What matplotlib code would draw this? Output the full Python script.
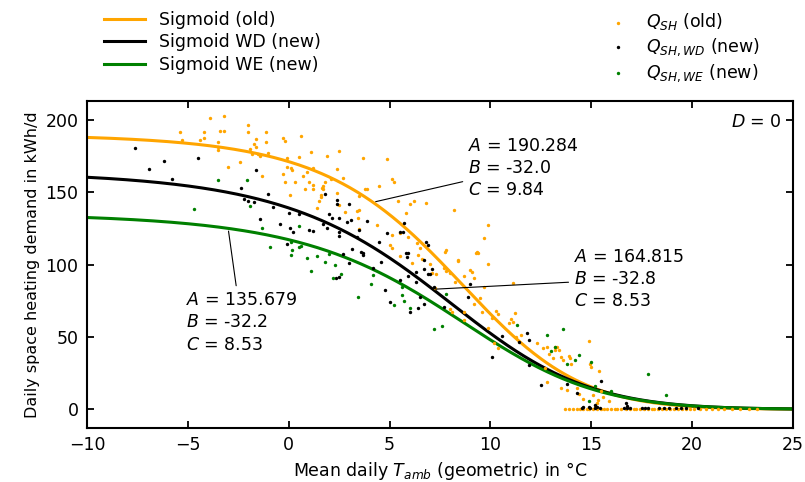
#!/usr/bin/env python3
"""Daily space heating demand vs. mean ambient temperature, sigmoid fits."""
import matplotlib
matplotlib.use("Agg")
import matplotlib.pyplot as plt
import numpy as np

# --- sigmoid fit parameters (order: old, WD, WE), D = 0 ---
FIT_A = [190.284, 164.815, 135.679]
FIT_B = [-32.0, -32.8, -32.2]
FIT_C = [9.84, 8.53, 8.53]
FIT_LABELS = ["Sigmoid (old)", "Sigmoid WD (new)", "Sigmoid WE (new)"]
PTS_LABELS = [r"$Q_{SH}$ (old)", r"$Q_{SH,WD}$ (new)", r"$Q_{SH,WE}$ (new)"]
COLORS = ["#ffa500", "black", "#008000"]

old_t = [-3.9, -3.2, -5.4, -5.3, -4.2, -4.2, -4.4, -3.4, -3.2, -3.5, -3.5, -3.5,
         -2.0, -2.0, -1.6, -1.1, -1.1, -1.7, -1.6, -1.9, -1.5, -1.4, -1.0, -1.8,
         -2.4, -3.0, -1.3, -0.3, -0.2, -0.1, -0.1, 0.1, -0.3, -0.2, 0.05, 0.3,
         0.6, 1.1, 0.5, 1.9, 1.2, 0.7, 1.0, 1.2, 0.8, 1.7, 1.7, 1.8, 1.5, 1.6, 1.4,
         2.5, 3.7, 4.9, 0.15, 0.9, 1.2, 1.65, 2.1, 2.4, 2.7, 1.62, 2.4, 2.5, 3.5,
         3.8, 3.9, 4.5, 5.1, 5.2, 5.4, 6.0, 6.2, 6.8, 8.2, 5.8, 2.8, 3.4, 3.5,
         3.45, 4.4, 3.5, 5.1, 5.5, 5.0, 5.1, 6.35, 6.5, 7.8, 7.75, 9.35, 9.7, 9.9,
         5.9, 9.3, 8.4,
         5.5, 6.4, 6.1, 6.6, 7.0, 7.1, 7.3, 7.7, 7.8, 8.0, 8.4, 8.25, 8.7, 9.0,
         9.1, 9.4, 9.9, 9.2, 9.7, 9.5, 9.2, 9.6, 8.7, 8.7, 9.9, 8.0, 8.1, 7.25,
         11.1, 10.3, 10.4, 10.1, 11.2, 11.0, 11.1, 10.9, 11.25, 11.5, 12.3, 12.9,
         13.1, 13.2, 13.5, 13.6, 13.2, 12.7, 12.8, 13.5, 13.9, 13.95, 14.0, 14.9,
         14.95, 15.0, 15.4, 14.3, 14.4, 15.1, 15.5, 15.6, 15.9, 15.3, 13.8,
         10.2, 10.4, 12.6, 12.8, 13.3, 13.4, 14.6, 15.35, 15.2,
         13.7, 13.9, 14.1, 14.3, 14.45, 14.6, 14.8, 14.9, 15.1, 15.3, 15.5, 15.65,
         15.8, 16.0, 16.2, 16.3, 16.5, 16.7, 16.9, 17.1, 17.2, 17.4, 17.6, 17.8,
         18.0, 18.1, 18.3, 18.5, 18.7, 18.9, 19.1, 19.3, 19.5, 19.7, 19.9, 20.1,
         20.4, 20.7, 21.0, 21.3, 21.6, 22.0, 22.4, 22.8, 23.2]
old_q = [201.6, 202.6, 191.9, 186.4, 191.9, 187.8, 186.0, 192.4, 192.4, 185.0, 181.6, 179.0,
         196.5, 191.9, 186.9, 191.5, 185.0, 183.6, 181.3, 179.9, 176.3, 174.9, 177.4, 176.7,
         170.7, 167.5, 161.5, 187.3, 185.5, 173.5, 167.5, 167.0, 162.4, 156.9, 148.1, 157.0,
         189.1, 178.0, 174.4, 174.9, 166.6, 161.0, 157.3, 152.2, 152.2, 152.2, 154.5, 156.9,
         144.0, 146.7, 139.3,
         178.5, 173.5, 173.0, 165.2, 164.2, 155.0, 153.2, 159.2, 165.9, 159.7, 148.1, 149.3,
         141.2, 147.6, 152.0, 152.2, 154.5, 159.2, 157.3, 143.9, 141.7, 143.9, 142.4, 137.5,
         135.4, 136.5, 137.0, 137.7, 132.0, 127.3, 124.6, 120.4, 121.6, 113.5, 111.2, 114.7,
         111.2, 110.0, 108.9, 108.9, 118.1, 127.3, 119.2, 108.2, 102.6,
         105.9, 106.6, 101.2, 103.6, 100.3, 93.9, 93.4, 97.4, 95.7, 94.3, 103.1, 88.1, 92.0,
         96.2, 95.0, 107.7, 100.3, 90.4, 84.6, 76.6, 72.7, 67.3, 67.3, 61.6, 56.5, 69.0,
         67.3, 83.5,
         87.4, 67.8, 65.7, 62.8, 66.6, 62.1, 60.4, 59.3, 49.6, 51.2, 45.9, 38.1,
         35.1, 42.7, 36.2, 33.9, 40.8, 28.2, 18.9, 15.0, 36.7, 35.1, 31.6, 47.1,
         31.6, 28.9, 26.5, 15.0, 10.4, 9.7, 12.7, 8.5, 5.7, 4.4, 13.1,
         45.9, 42.0, 42.0, 43.1, 43.1, 40.8, 7.4, 6.2, 1.6,
         0, 0, 0, 0, 0, 0, 0, 0, 0, 0, 0, 0,
         0, 0, 0, 0, 0, 0, 0, 0, 0, 0, 0, 0,
         0, 0, 0, 0, 0, 0, 0, 0, 0, 0, 0, 0,
         0, 0, 0, 0, 0, 0, 0, 0, 0]

wd_t = [-7.6, -6.9, -6.2, -5.8, -4.5, -1.6, -2.35, -1.0, -2.2, -2.0, -1.7, -0.8,
        0.0, -1.4, -0.45, 0.06, 0.2, -0.1, 1.8, 1.9, 1.7, 1.0, 1.2, 0.5, 2.0,
        2.4, 2.4, 3.0, 2.15, 2.5, 2.9, 3.1, 3.9, 3.5, 2.5, 2.5, 3.4, 4.5, 4.9,
        5.7, 6.8, 6.9, 3.15, 3.6, 5.8, 5.9,
        2.7, 3.0, 3.7, 3.7, 2.35, 2.5, 4.2, 4.6, 4.8, 5.0, 5.5, 5.9, 5.85, 6.3,
        6.5, 6.7, 6.4, 6.0, 6.7, 6.9, 7.2, 7.7, 9.0, 8.9,
        5.5, 5.65, 6.3, 7.1, 6.7, 7.0,
        10.1, 10.6, 11.4, 11.8, 11.9, 11.9, 12.5, 13.8, 14.3, 15.5, 15.2, 15.3,
        16.7, 16.75, 14.6, 14.9,
        14.55, 14.94, 15.2, 15.44, 16.63, 16.78, 16.93, 17.52, 17.67, 17.82,
        18.37, 18.61, 18.86, 19.2, 19.45, 19.7, 20.3]
wd_q = [180.4, 166.3, 171.4, 159.0, 173.5, 165.6, 153.1, 148.8, 145.3, 144.2, 143.5, 140.0,
        135.9, 131.3, 127.8, 125.5, 122.3, 114.0, 148.6, 125.0, 127.8, 123.7, 123.2, 135.2,
        134.7,
        144.6, 141.9, 142.1, 132.0, 132.0, 129.2, 130.8, 130.1, 123.9, 122.7, 119.9, 119.2,
        115.8, 121.6, 128.5, 115.8, 113.5, 110.7, 108.9, 107.7, 107.7,
        107.3, 101.2, 107.7, 106.8, 90.4, 91.1, 97.4, 101.9, 82.4, 74.3, 89.3, 92.0, 105.4,
        88.1, 77.7, 72.7, 69.7, 67.3, 96.7, 93.4, 84.6, 70.8, 86.5, 77.7,
        122.7, 122.7, 95.0, 96.7, 103.1, 93.4,
        35.8, 50.5, 46.6, 52.8, 48.2, 30.4, 16.6, 17.3, 11.3, 19.6, 2.8, 1.2,
        4.4, 2.1, 1.6, 1.2,
        0.5, 0.5, 0.5, 0.5, 0.5, 0.5, 0.5, 0.5, 0.5, 0.5,
        0.5, 0.5, 0.5, 0.5, 0.5, 0.5, 0.5]

we_t = [-3.5, -2.05, -4.7, -1.9, -1.3, -0.9, 0.1, 0.15, 0.5, 0.5, 0.6, 0.14,
        0.9, 1.4, 1.8, 2.0, 1.1, 2.3, 2.6, 2.2, 4.1, 4.2, 3.45, 5.2, 5.6, 5.6,
        5.7, 6.0, 7.2, 7.6, 7.8, 11.3, 13.6, 12.8, 13.2, 13.0, 13.8, 14.4, 14.2,
        15.0, 15.2, 16.0, 17.8, 18.7, 14.9]
we_q = [158.3, 158.3, 138.6, 140.3, 125.5, 111.9, 115.4, 110.0, 127.0, 112.0, 113.0, 106.6,
        104.7, 105.7, 101.5, 107.3, 95.7, 99.4, 93.4, 90.4, 86.5, 92.9, 77.3, 72.0, 84.2,
        78.9, 74.7, 69.7, 55.4, 57.4, 79.4, 58.1, 55.2, 51.2, 43.1, 40.3, 31.1, 37.4, 33.9,
        32.5, 15.9, 12.7, 24.2, 9.5, 5.7]

# where each parameter box points onto its curve (mean daily T in degC)
NOTE_T = [4.18, 7.15, -3.0]
NOTE_POS = [(8.9, 167), (14.15, 90), (-5.1, 60)]

FS = 12.5


def sigmoid(t, a, b, c):
    return a / (1.0 + (b / (np.asarray(t, dtype=float) - 40.0)) ** c)


def main() -> None:
    plt.rcParams["font.family"] = "DejaVu Sans"
    fig = plt.figure(figsize=(8.05, 4.82), dpi=100)
    ax = fig.add_axes([0.108, 0.112, 0.877, 0.678])

    t = np.linspace(-10, 25, 500)
    lines = []
    for a, b, c, col, lab in zip(FIT_A, FIT_B, FIT_C, COLORS, FIT_LABELS):
        ln, = ax.plot(t, sigmoid(t, a, b, c), color=col, lw=2.2, label=lab, zorder=2)
        lines.append(ln)

    pts = []
    for xs, ys, col, lab in zip([old_t, wd_t, we_t], [old_q, wd_q, we_q], COLORS, PTS_LABELS):
        sc = ax.scatter(xs, ys, s=6, color=col, linewidths=0, label=lab, zorder=3)
        pts.append(sc)

    # parameter boxes
    for a, b, c, tn, pos in zip(FIT_A, FIT_B, FIT_C, NOTE_T, NOTE_POS):
        txt = f"$A$ = {a:.3f}\n$B$ = {b:.1f}\n$C$ = {c:.2f}"
        ax.annotate(txt, xy=(tn, sigmoid(tn, a, b, c)), xytext=pos,
                    ha="left", va="center", fontsize=FS, linespacing=1.3,
                    arrowprops=dict(arrowstyle="-", color="black", lw=0.8))

    ax.text(0.985, 0.965, "$D$ = 0", transform=ax.transAxes, ha="right", va="top",
            fontsize=FS)

    ax.set_xlim(-10, 25)
    ax.set_ylim(-13, 213)
    ax.set_xticks(np.arange(-10, 26, 5))
    ax.set_yticks(np.arange(0, 201, 50))
    ax.tick_params(direction="in", top=True, right=True, length=5, width=1.3,
                   labelsize=FS, pad=6)
    for sp in ax.spines.values():
        sp.set_linewidth(1.5)
    ax.set_xlabel(r"Mean daily $T_{amb}$ (geometric) in °C", fontsize=FS)
    ax.set_ylabel("Daily space heating demand in kWh/d", fontsize=11.5)

    leg1 = ax.legend(handles=lines, loc="upper left", bbox_to_anchor=(0.118, 0.995),
                     bbox_transform=fig.transFigure, frameon=False, fontsize=FS,
                     borderpad=0, handlelength=2.4, handletextpad=0.8,
                     labelspacing=0.25)
    ax.add_artist(leg1)
    ax.legend(handles=pts, loc="upper left", bbox_to_anchor=(0.746, 0.995),
              bbox_transform=fig.transFigure, frameon=False, fontsize=FS,
              borderpad=0, handlelength=1.0, handletextpad=1.1,
              labelspacing=0.25, markerscale=1.0)

    fig.savefig("out.png", dpi=100)
    plt.close(fig)


if __name__ == "__main__":
    main()
